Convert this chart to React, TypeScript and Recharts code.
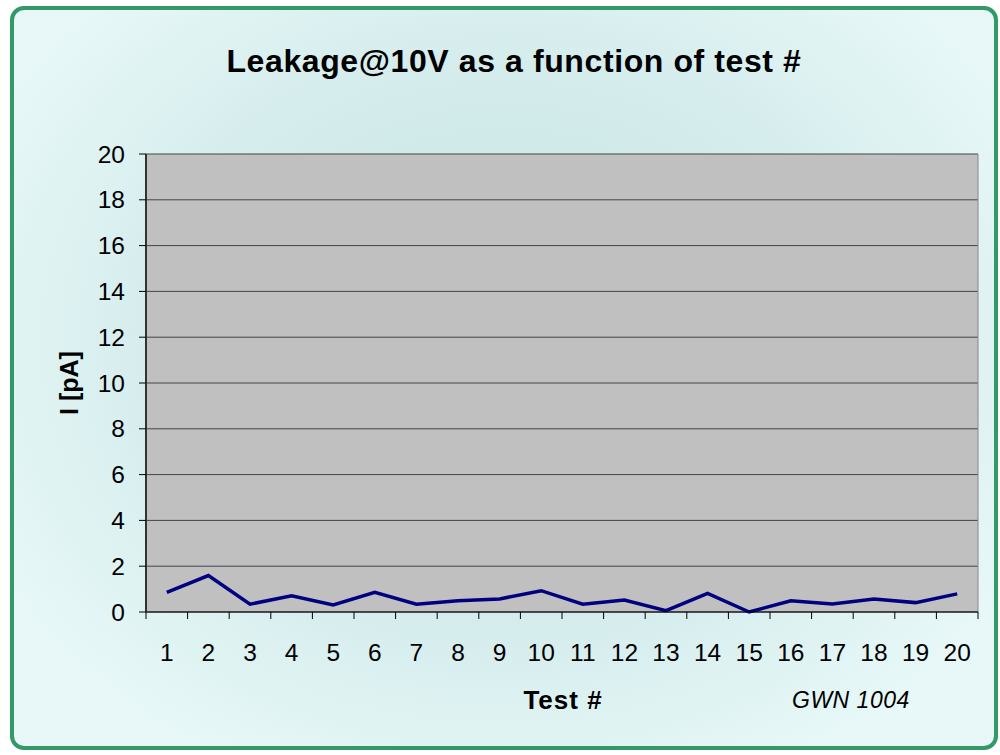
import React from "react";
import { LineChart, Line, XAxis, YAxis, CartesianGrid, ReferenceLine } from "recharts";

const tests = [1, 2, 3, 4, 5, 6, 7, 8, 9, 10, 11, 12, 13, 14, 15, 16, 17, 18, 19, 20];
const leakage = [0.86, 1.59, 0.34, 0.71, 0.31, 0.86, 0.34, 0.49, 0.57, 0.93, 0.34, 0.52, 0.06, 0.81, 0.0, 0.49, 0.35, 0.57, 0.41, 0.79];
const yTicks = [0, 2, 4, 6, 8, 10, 12, 14, 16, 18, 20];
const xTicks: number[] = [];
for (let i = 0; i <= tests.length; i++) {
  xTicks.push(i + 0.5);
  if (i < tests.length) xTicks.push(tests[i]);
}
xTicks.sort((a, b) => a - b);

const data = tests.map((t, i) => ({ test: t, value: leakage[i] }));

const FONT = "Arial, 'Liberation Sans', sans-serif";

const XTick = (props: any) => {
  const { x, y, payload } = props;
  const v = payload.value;
  if (Number.isInteger(v)) {
    return (
      <text x={x} y={y + 49} textAnchor="middle" fontSize={24.5} fontFamily={FONT} fill="#000">
        {v}
      </text>
    );
  }
  return <line x1={x} x2={x} y1={y} y2={y + 7} stroke="#000" strokeWidth={1} />;
};

export default function App() {
  return (
    <div style={{ position: "absolute", left: 0, top: 0, width: 1000, height: 755, background: "#fff", fontFamily: FONT }}>
      <div
        style={{
          position: "absolute",
          left: 10,
          top: 6,
          width: 980,
          height: 736,
          border: "4px solid #339966",
          borderRadius: 14,
          background: "radial-gradient(ellipse at 50% 45%, #c6e2e2 0%, #d3ebeb 45%, #e8f8f8 85%)",
        }}
      />
      <div style={{ position: "absolute", left: 0, top: 0 }}>
        <LineChart width={1000} height={755} data={data} margin={{ top: 154, right: 22, bottom: 100, left: 0 }}>
          <CartesianGrid vertical={false} stroke="#444" fill="#C0C0C0" fillOpacity={1} horizontalValues={yTicks} />
          <XAxis
            dataKey="test"
            type="number"
            domain={[0.5, 20.5]}
            ticks={xTicks}
            interval={0}
            tickLine={false}
            tickSize={0}
            tickMargin={0}
            height={43}
            axisLine={{ stroke: "#000", strokeWidth: 1 }}
            tick={<XTick />}
            allowDataOverflow
          />
          <YAxis
            type="number"
            domain={[0, 20]}
            ticks={yTicks}
            interval={0}
            width={146}
            tickSize={7}
            tickMargin={14}
            axisLine={{ stroke: "#333", strokeWidth: 2 }}
            tickLine={{ stroke: "#000" }}
            tick={{ fontSize: 24.5, fill: "#000", fontFamily: FONT }}
          />
          <ReferenceLine x={20.5} stroke="#888" strokeWidth={1} />
          <Line
            type="linear"
            dataKey="value"
            stroke="#000080"
            strokeWidth={3.5}
            dot={false}
            isAnimationActive={false}
          />
        </LineChart>
      </div>
      <div style={{ position: "absolute", left: 0, width: 1028, top: 44, textAlign: "center", fontSize: 32, fontWeight: "bold", letterSpacing: 0.6, lineHeight: 1.117, whiteSpace: "nowrap" }}>
        Leakage@10V as a function of test #
      </div>
      <div
        style={{
          position: "absolute",
          left: 70,
          top: 383,
          transform: "translate(-50%, -50%) rotate(-90deg)",
          fontSize: 25,
          fontWeight: "bold",
          whiteSpace: "nowrap",
          lineHeight: 1.117,
        }}
      >
        I [pA]
      </div>
      <div style={{ position: "absolute", left: 563, top: 701, transform: "translate(-50%, -50%)", fontSize: 26, fontWeight: "bold", letterSpacing: 1, whiteSpace: "nowrap", lineHeight: 1.117 }}>
        Test #
      </div>
      <div style={{ position: "absolute", left: 792, top: 701, transform: "translateY(-50%)", fontSize: 23, fontStyle: "italic", letterSpacing: 0.5, whiteSpace: "nowrap", lineHeight: 1.117 }}>
        GWN 1004
      </div>
    </div>
  );
}
